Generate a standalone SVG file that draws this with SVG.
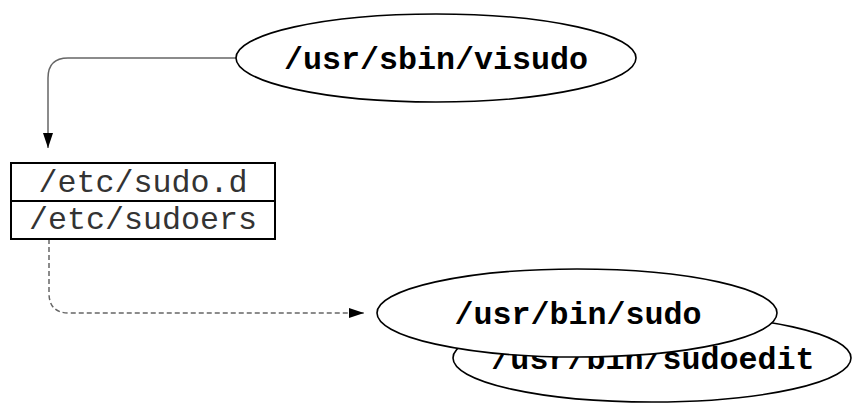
<svg xmlns="http://www.w3.org/2000/svg" width="853" height="404" viewBox="0 0 853 404">
<defs>
<marker id="arr" viewBox="0 0 15 10" refX="15" refY="5" markerWidth="15" markerHeight="10" markerUnits="userSpaceOnUse" orient="auto">
<path d="M0,0 L15,5 L0,10 Z" fill="#000"/>
</marker>
<style>
.node ellipse{fill:#fff;stroke:#000;stroke-width:1.6}
.node rect, .node line{fill:#fff;stroke:#000;stroke-width:2}
.b{font-family:"Liberation Mono","Courier New",monospace;font-weight:bold;font-size:31.7px;text-anchor:middle;fill:#000}
.n{font-family:"Liberation Mono","Courier New",monospace;font-size:31.7px;text-anchor:middle;fill:#333}
.edge{fill:none;stroke:#666;stroke-width:1.5}
.dash{stroke-dasharray:5,3}
</style>
</defs>
<g id="edges">
<path class="edge" d="M236,58 L68,58 Q48,58 48,78 L48,148" marker-end="url(#arr)"/>
<path class="edge dash" d="M49,239 L49,293 Q49,313 69,313 L364,313" marker-end="url(#arr)"/>
</g>
<g id="visudo" class="node">
<ellipse cx="436" cy="58" rx="200" ry="44"/>
<text class="b" x="436" y="69">/usr/sbin/visudo</text>
</g>
<g id="config" class="node">
<rect x="11" y="163" width="264" height="76"/>
<line x1="11" y1="201" x2="275" y2="201"/>
<text class="n" x="143" y="192">/etc/sudo.d</text>
<text class="n" x="143" y="229">/etc/sudoers</text>
</g>
<g id="sudoedit" class="node">
<ellipse cx="652" cy="358" rx="199" ry="44"/>
<text class="b" x="653" y="369">/usr/bin/sudoedit</text>
</g>
<g id="sudo" class="node">
<ellipse cx="577" cy="313" rx="200" ry="44"/>
<text class="b" x="578" y="324">/usr/bin/sudo</text>
</g>
</svg>
